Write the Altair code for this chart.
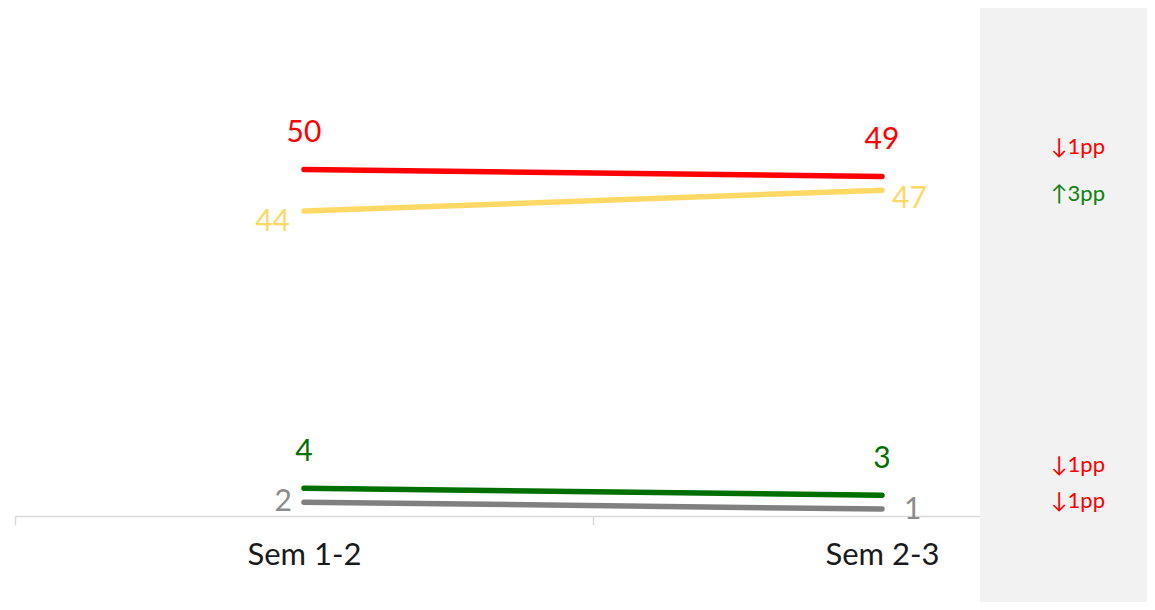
import altair as alt
import pandas as pd

periods = ["Sem 1-2", "Sem 2-3"]
series = ["Red", "Yellow", "Green", "Gray"]
start_values = [50, 44, 4, 2]
end_values = [49, 47, 3, 1]

line_colors = ["#ff0000", "#ffd966", "#006f00", "#808080"]
label_colors = ["#ff0000", "#ffd966", "#006f00", "#8c8c8c"]

rows = []
for s, a, b in zip(series, start_values, end_values):
    rows.append({"series": s, "period": periods[0], "value": a})
    rows.append({"series": s, "period": periods[1], "value": b})
df = pd.DataFrame(rows)

drows = []
for s, a, b in zip(series, start_values, end_values):
    d = b - a
    drows.append({"series": s, "end": b,
                  "text": ("↑" if d > 0 else "↓") + str(abs(d)) + "pp",
                  "dir": "up" if d > 0 else "down"})
ddf = pd.DataFrame(drows)

W, H = 1132, 508
FONT = "Lato"

xscale = alt.Scale(type="band", domain=periods, range=[0, 1156], paddingInner=0, paddingOuter=0)
yscale = alt.Scale(domain=[0, 73.3], nice=False, zero=True)
xaxis = alt.Axis(title=None, tickBand="extent", labelFontSize=31, labelColor="#1a1a1a",
                 labelAngle=0, labelPadding=15, domainColor="#d9d9d9", domainWidth=1.5,
                 tickColor="#d9d9d9", tickWidth=1.5, tickSize=9, grid=False,
                 labelFont=FONT)

X = alt.X("period:N", scale=xscale, axis=xaxis, sort=periods)
Y = alt.Y("value:Q", scale=yscale, axis=None)
C = alt.Color("series:N", scale=alt.Scale(domain=series, range=label_colors), legend=None)

base = alt.Chart(df)

panel = alt.Chart(df).mark_rect(color="#f2f2f2").encode(
    x=alt.value(965), x2=alt.value(W), y=alt.value(0), y2=alt.value(594)
).transform_filter("datum.series == 'Red' && datum.period == 'Sem 1-2'")

lines = base.mark_line(strokeWidth=5.5, strokeCap="round").encode(
    x=X, y=Y,
    color=alt.Color("series:N", scale=alt.Scale(domain=series, range=line_colors), legend=None),
    detail="series:N",
)

def txt(flt, **kw):
    return base.mark_text(font=FONT, fontSize=30, baseline="middle", **kw).encode(
        x=X, y=Y, text="value:Q", color=C
    ).transform_filter(flt)

t_above = txt("datum.series == 'Red' || datum.series == 'Green'", align="center", dy=-36)
t_y1 = txt("datum.series == 'Yellow' && datum.period == 'Sem 1-2'", align="right", dx=-14, dy=11)
t_y2 = txt("datum.series == 'Yellow' && datum.period == 'Sem 2-3'", align="left", dx=10, dy=9)
t_g1 = txt("datum.series == 'Gray' && datum.period == 'Sem 1-2'", align="right", dx=-12, dy=0)
t_g2 = txt("datum.series == 'Gray' && datum.period == 'Sem 2-3'", align="left", dx=22, dy=1)

def delta(s, dy):
    return alt.Chart(ddf).mark_text(font=FONT, fontSize=22, baseline="middle", align="center", dy=dy).encode(
        x=alt.value(1063),
        y=alt.Y("end:Q", scale=yscale, axis=None),
        text="text:N",
        color=alt.Color("dir:N", scale=alt.Scale(domain=["down", "up"], range=["#ff0000", "#108010"]), legend=None),
    ).transform_filter(f"datum.series == '{s}'")

deltas = [delta("Red", -29), delta("Yellow", 4), delta("Green", -30), delta("Gray", -8)]

chart = alt.layer(panel, lines, t_above, t_y1, t_y2, t_g1, t_g2, *deltas).resolve_scale(
    color="independent"
).properties(
    width=W, height=H,
    autosize=alt.AutoSizeParams(type="none"),
    padding={"left": 7, "top": 0, "right": 0, "bottom": 86},
).configure(font=FONT).configure_view(stroke=None)

chart.save("out.html", embed_options={"renderer": "svg", "actions": False})
